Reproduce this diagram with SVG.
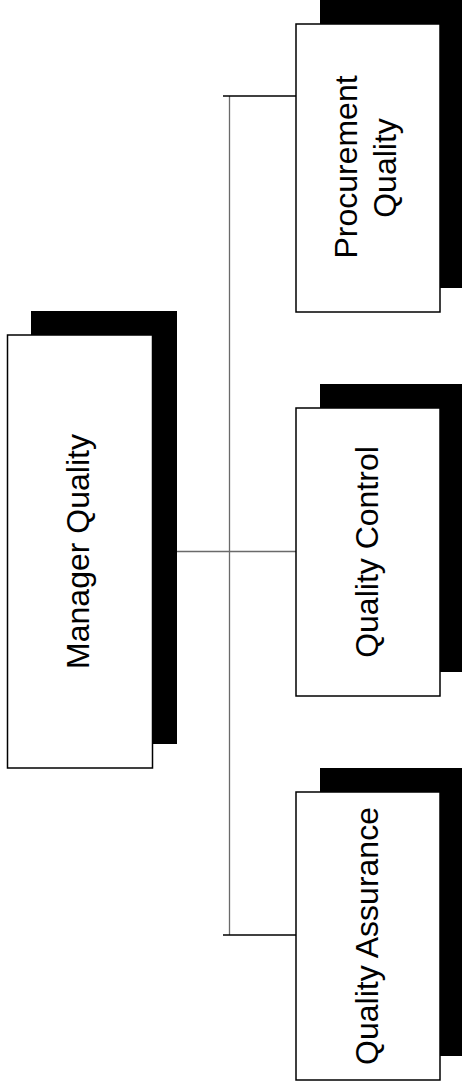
<svg xmlns="http://www.w3.org/2000/svg" width="462" height="1090" viewBox="0 0 462 1090">
<style>
.shadow{fill:#000;stroke:none}
.box{fill:#fff;stroke:#000;stroke-width:1.5}
.lbl{font-family:"Liberation Sans",Arial,sans-serif;font-size:32px;fill:#000;text-anchor:middle}
.gray{stroke:#6a6a6a;stroke-width:1.3;fill:none}
.blk{stroke:#000;stroke-width:1.4;fill:none}
</style>
<rect width="462" height="1090" fill="#fff"/>
<g id="connectors">
<line class="gray" x1="229.5" y1="96" x2="229.5" y2="935"/>
<line class="gray" x1="177" y1="551.5" x2="296" y2="551.5"/>
<line class="blk" x1="223" y1="96" x2="296" y2="96"/>
<line class="blk" x1="223" y1="935" x2="296" y2="935"/>
</g>
<g id="manager">
<rect class="shadow" x="31" y="311" width="146" height="433"/>
<rect class="box" x="7.5" y="335" width="145" height="433"/>
<text class="lbl" transform="translate(89,551.5) rotate(-90)">Manager Quality</text>
</g>
<g id="procurement">
<rect class="shadow" x="320" y="0" width="144" height="288"/>
<rect class="box" x="296" y="24" width="144" height="288"/>
<text class="lbl" transform="translate(357,167) rotate(-90)">Procurement</text>
<text class="lbl" transform="translate(396,168) rotate(-90)">Quality</text>
</g>
<g id="control">
<rect class="shadow" x="320" y="384" width="144" height="288"/>
<rect class="box" x="296" y="408" width="144" height="288"/>
<text class="lbl" transform="translate(378,552) rotate(-90)">Quality Control</text>
</g>
<g id="assurance">
<rect class="shadow" x="320" y="768" width="144" height="288"/>
<rect class="box" x="296" y="792" width="144" height="288"/>
<text class="lbl" transform="translate(378,936) rotate(-90)">Quality Assurance</text>
</g>
</svg>
